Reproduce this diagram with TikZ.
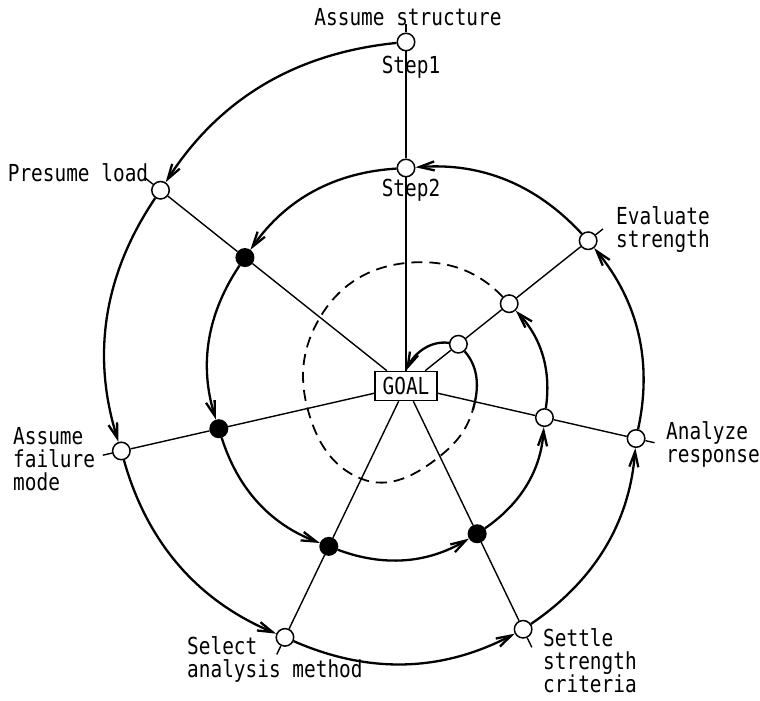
\documentclass[tikz,border=0pt]{standalone}
\usepackage{fontspec}
\setmainfont{DejaVu Sans Mono}[FakeStretch=0.83]
\usetikzlibrary{arrows.meta}
\newcommand{\stackl}[1]{\vtop{\baselineskip=23pt #1}}
\begin{document}
\begin{tikzpicture}[x=1pt,y=1pt,
  every node/.style={font=\fontsize{23.4pt}{23pt}\selectfont},
  wnode/.style={circle, draw, fill=white, line width=1.5pt, minimum size=17.5pt, inner sep=0pt},
  bnode/.style={circle, draw, fill=black, line width=1.5pt, minimum size=17.5pt, inner sep=0pt},
  radial/.style={line width=1.4pt},
  spiral/.style={line width=2.3pt, looseness=0.95},
  tipped/.style={-{Straight Barb[length=15pt,width=9pt]}},
  lbl/.style={inner sep=0pt},
  goalbox/.style={draw, fill=white, line width=1.6pt, minimum width=62pt, minimum height=29pt, inner sep=0pt}]
\useasboundingbox (0,0) rectangle (760,701);
\coordinate (C) at (406,315);
% centre
\node[goalbox] (goal) at (C) {GOAL};
% outer loop
\node[wnode] (n1) at ([shift={(90:344pt)}]C) {};
\node[wnode] (n2) at ([shift={(141.43:314pt)}]C) {};
\node[wnode] (n3) at ([shift={(192.86:292pt)}]C) {};
\node[wnode] (n4) at ([shift={(244.29:279pt)}]C) {};
\node[wnode] (n5) at ([shift={(295.71:270pt)}]C) {};
\node[wnode] (n6) at ([shift={(347.14:236pt)}]C) {};
\node[wnode] (n7) at ([shift={(38.57:233pt)}]C) {};
% second loop
\node[wnode] (n8) at ([shift={(90:218pt)}]C) {};
\node[bnode] (n9) at ([shift={(141.43:206pt)}]C) {};
\node[bnode] (n10) at ([shift={(192.86:192pt)}]C) {};
\node[bnode] (n11) at ([shift={(244.29:178pt)}]C) {};
\node[bnode] (n12) at ([shift={(295.71:164pt)}]C) {};
\node[wnode] (n13) at ([shift={(347.14:142pt)}]C) {};
\node[wnode] (n14) at ([shift={(38.57:132pt)}]C) {};
% third loop
\node[wnode] (n15) at ([shift={(38.57:67pt)}]C) {};
\coordinate (d1) at ([shift={(90:123pt)}]C);
\coordinate (d2) at ([shift={(141.43:110pt)}]C);
\coordinate (d3) at ([shift={(192.86:101pt)}]C);
\coordinate (d4) at ([shift={(244.29:103pt)}]C);
\coordinate (d5) at ([shift={(295.71:78pt)}]C);
\coordinate (d6) at ([shift={(340:71pt)}]C);
% tick ends
\coordinate (t1) at ([shift={(90:362pt)}]C);
\coordinate (t2) at ([shift={(141.43:333pt)}]C);
\coordinate (t3) at ([shift={(192.86:311pt)}]C);
\coordinate (t4) at ([shift={(244.29:298pt)}]C);
\coordinate (t5) at ([shift={(295.71:290pt)}]C);
\coordinate (t6) at ([shift={(347.14:255pt)}]C);
\coordinate (t7) at ([shift={(38.57:252pt)}]C);
% radial lines
\draw[radial] (goal) -- (n8) -- (n1) -- (t1);
\draw[radial] (goal) -- (n9) -- (n2) -- (t2);
\draw[radial] (goal) -- (n10) -- (n3) -- (t3);
\draw[radial] (goal) -- (n11) -- (n4) -- (t4);
\draw[radial] (goal) -- (n12) -- (n5) -- (t5);
\draw[radial] (goal) -- (n13) -- (n6) -- (t6);
\draw[radial] (goal) -- (n15) -- (n14) -- (n7) -- (t7);
% spiral
\draw[spiral,tipped] (n1) to[out=185.8, in=57.2] (n2);
\draw[spiral,tipped] (n2) to[out=236, in=107.5] (n3);
\draw[spiral,tipped] (n3) to[out=285.8, in=157.2] (n4);
\draw[spiral,tipped] (n4) to[out=336.4, in=207.8] (n5);
\draw[spiral,tipped] (n5) to[out=34.2, in=265.6] (n6);
\draw[spiral,tipped] (n6) to[out=77.9, in=309.4] (n7);
\draw[spiral,tipped] (n7) to[out=132.8, in=4.2] (n8);
\draw[spiral,tipped] (n8) to[out=183.6, in=55] (n9);
\draw[spiral,tipped] (n9) to[out=236, in=107.4] (n10);
\draw[spiral,tipped] (n10) to[out=287.7, in=159.1] (n11);
\draw[spiral,tipped] (n11) to[out=339.5, in=210.9] (n12);
\draw[spiral,tipped] (n12) to[out=34.8, in=266.2] (n13);
\draw[spiral,tipped] (n13) to[out=81.7, in=313.2] (n14);
\draw[line width=1.8pt, dash pattern=on 11pt off 7pt, looseness=0.95]
  (n14) to[out=133.6, in=6] (d1) to[out=186, in=59.4] (d2)
  to[out=239.4, in=104.9] (d3) to[out=284.9, in=158.3] (d4)
  to[out=338.3, in=218.7] (d5) to[out=38.7, in=253] (d6);
\draw[spiral] (d6) to[out=73, in=311.6] (n15);
\draw[spiral,tipped] (n15) to[out=172, in=65] (goal.north);
% labels
\node[lbl, anchor=base] (l1) at (408,675) {Assume structure};
\node[lbl, anchor=base] (s1) at (411,627) {Step1};
\node[lbl, anchor=base] (s2) at (411,504) {Step2};
\node[lbl, anchor=base] (l2) at (78,519) {Presume load};
\node[lbl, anchor=base west] (l3) at (13,256) {\stackl{\hbox{Assume}\hbox{failure}\hbox{mode}}};
\node[lbl, anchor=base west] (l4) at (187,46) {\stackl{\hbox{Select}\hbox{analysis method}}};
\node[lbl, anchor=base west] (l5) at (543,54) {\stackl{\hbox{Settle}\hbox{strength}\hbox{criteria}}};
\node[lbl, anchor=base west] (l6) at (666,261) {\stackl{\hbox{Analyze}\hbox{response}}};
\node[lbl, anchor=base west] (l7) at (616,476) {\stackl{\hbox{Evaluate}\hbox{strength}}};
\end{tikzpicture}
\end{document}
